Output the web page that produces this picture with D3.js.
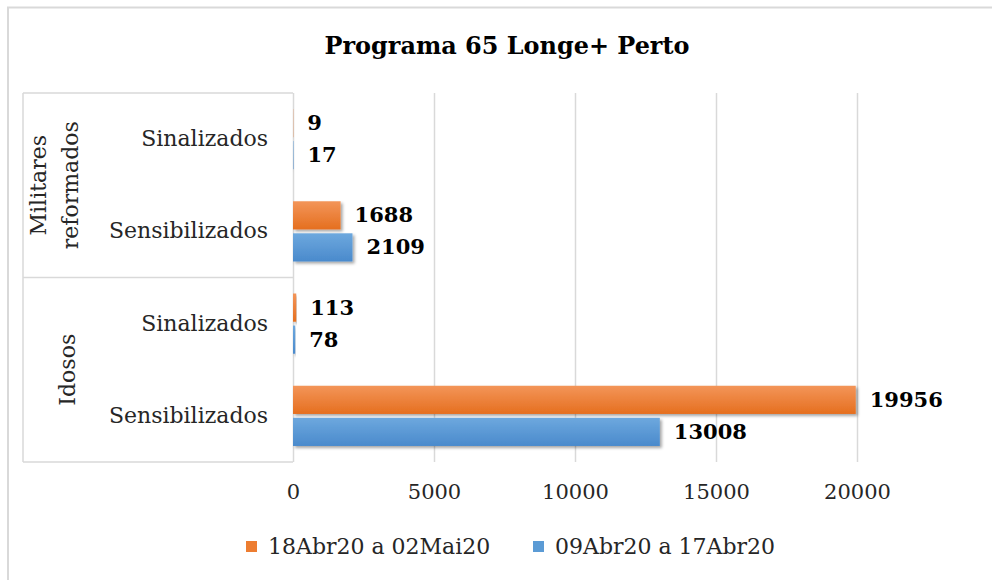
<!DOCTYPE html>
<html>
<head>
<meta charset="utf-8">
<script src="https://cdn.jsdelivr.net/npm/d3@7"></script>
<style>
  body { margin: 0; background: #fff; }
  text { font-family: "DejaVu Serif", "Liberation Serif", serif; }
</style>
</head>
<body>
<div id="chart"></div>
<script>
// data
var groups = ["Militares reformados", "Idosos"];
var items = ["Sinalizados", "Sensibilizados"];
var seriesNames = ["18Abr20 a 02Mai20", "09Abr20 a 17Abr20"];
var seriesColors = ["#ED7D31", "#5B9BD5"];
// values per row (top to bottom): Militares Sinalizados, Militares Sensibilizados, Idosos Sinalizados, Idosos Sensibilizados
var valuesOrange = [9, 1688, 113, 19956];
var valuesBlue = [17, 2109, 78, 13008];
var xTicks = [0, 5000, 10000, 15000, 20000];

function drawChart(){
    var width = 992, height = 580;
    var pLeft = 293, pRight = 857, pTop = 93, pBottom = 462;

    var rows = [];
    groups.forEach(function(g, gi){
        items.forEach(function(it, ii){
            var idx = gi * 2 + ii;
            rows.push({id: idx, group: g, item: it, vals: [valuesOrange[idx], valuesBlue[idx]]});
        });
    });

    var svg = d3.select("#chart").append("svg")
        .attr("width", width)
        .attr("height", height);

    // gradients + shadow
    var defs = svg.append("defs");
    var grads = [["#F39559", "#E56F1F"], ["#6DA8DE", "#4A8ACC"]];
    grads.forEach(function(c, i){
        var g = defs.append("linearGradient").attr("id", "grad" + i)
            .attr("x1", 0).attr("y1", 0).attr("x2", 0).attr("y2", 1);
        g.append("stop").attr("offset", "0%").attr("stop-color", c[0]);
        g.append("stop").attr("offset", "100%").attr("stop-color", c[1]);
    });
    var f = defs.append("filter").attr("id", "shadow")
        .attr("x", "-5%").attr("y", "-20%").attr("width", "115%").attr("height", "160%");
    f.append("feDropShadow").attr("dx", 2).attr("dy", 2).attr("stdDeviation", 1.5)
        .attr("flood-color", "#000").attr("flood-opacity", 0.35);

    // outer border (only top/left visible)
    svg.append("path")
        .attr("d", "M8,600 L8,7.5 L1000,7.5")
        .attr("fill", "none").attr("stroke", "#d9d9d9").attr("stroke-width", 2);

    // title
    svg.append("text")
        .attr("x", 507).attr("y", 54)
        .attr("text-anchor", "middle")
        .attr("textLength", 365).attr("lengthAdjust", "spacingAndGlyphs")
        .style("font-size", "24px").style("font-weight", "bold")
        .text("Programa 65 Longe+ Perto");

    var xScale = d3.scaleLinear().domain([0, 20000]).range([pLeft, pRight]);
    var yScale = d3.scaleBand().domain(rows.map(function(d){ return d.id; })).range([pTop, pBottom]);
    var ySub = d3.scaleBand().domain([0, 1]).range([0, yScale.bandwidth()]).paddingInner(0.12).paddingOuter(0.5);

    // gridlines via axis
    svg.append("g")
        .attr("transform", "translate(0," + pTop + ")")
        .call(d3.axisBottom(xScale).tickValues(xTicks).tickSize(pBottom - pTop).tickFormat(""))
        .call(function(g){
            g.select(".domain").remove();
            g.selectAll(".tick line").attr("stroke", "#d9d9d9").attr("stroke-width", 1.5);
        });

    // category box lines
    var boxLines = [pTop, pTop + yScale.bandwidth() * 2, pBottom];
    svg.selectAll(".hline").data(boxLines).enter().append("line")
        .attr("x1", 23).attr("x2", pLeft)
        .attr("y1", function(d){ return d; }).attr("y2", function(d){ return d; })
        .attr("stroke", "#d9d9d9").attr("stroke-width", 1.5);
    svg.append("line")
        .attr("x1", 23).attr("x2", 23).attr("y1", pTop).attr("y2", pBottom)
        .attr("stroke", "#d9d9d9").attr("stroke-width", 1.5);

    // item labels
    svg.selectAll(".item").data(rows).enter().append("text")
        .attr("x", 268)
        .attr("y", function(d){ return yScale(d.id) + yScale.bandwidth() / 2 + 7; })
        .attr("text-anchor", "end")
        .style("font-size", "22px").attr("fill", "#262626")
        .text(function(d){ return d.item; });

    // group labels (rotated)
    var groupLines = [["Militares", "reformados"], ["Idosos"]];
    var groupX = [54, 67];
    groupLines.forEach(function(lines, gi){
        var cy = pTop + yScale.bandwidth() * (gi * 2 + 1);
        var t = svg.append("text")
            .attr("transform", "translate(" + groupX[gi] + "," + cy + ") rotate(-90)")
            .attr("text-anchor", "middle")
            .style("font-size", "22px").attr("fill", "#262626");
        lines.forEach(function(l, li){
            t.append("tspan").attr("x", 0)
                .attr("y", (li - (lines.length - 1) / 2) * 32 + 8)
                .text(l);
        });
    });

    // bars
    var rowG = svg.selectAll(".row").data(rows).enter().append("g")
        .attr("transform", function(d){ return "translate(0," + yScale(d.id) + ")"; });

    rowG.selectAll("rect").data(function(d){ return d.vals; }).enter().append("rect")
        .attr("x", xScale(0))
        .attr("y", function(d, i){ return ySub(i); })
        .attr("width", function(d){ return xScale(d) - xScale(0); })
        .attr("height", ySub.bandwidth())
        .attr("fill", function(d, i){ return "url(#grad" + i + ")"; })
        .attr("filter", "url(#shadow)");

    rowG.selectAll(".lbl").data(function(d){ return d.vals; }).enter().append("text")
        .attr("x", function(d){ return xScale(d) + 14; })
        .attr("y", function(d, i){ return ySub(i) + ySub.bandwidth() / 2 + 7; })
        .style("font-size", "21px").style("font-weight", "bold").attr("fill", "#000")
        .text(function(d){ return d; });

    // x tick labels
    svg.append("g")
        .attr("transform", "translate(0," + pBottom + ")")
        .call(d3.axisBottom(xScale).tickValues(xTicks).tickSize(0).tickPadding(22).tickFormat(d3.format("d")))
        .call(function(g){
            g.select(".domain").remove();
            g.selectAll("text").style("font-size", "21px")
                .style("font-family", "'DejaVu Serif', serif").attr("fill", "#262626");
        });

    // legend
    var legendX = [246, 533];
    var legend = svg.selectAll(".leg").data(seriesNames).enter().append("g")
        .attr("transform", function(d, i){ return "translate(" + legendX[i] + ",541)"; });
    legend.append("rect").attr("width", 11).attr("height", 11)
        .attr("fill", function(d, i){ return seriesColors[i]; });
    legend.append("text").attr("x", 22).attr("y", 13)
        .style("font-size", "22px").attr("fill", "#262626")
        .text(function(d){ return d; });
}

drawChart();
</script>
</body>
</html>
